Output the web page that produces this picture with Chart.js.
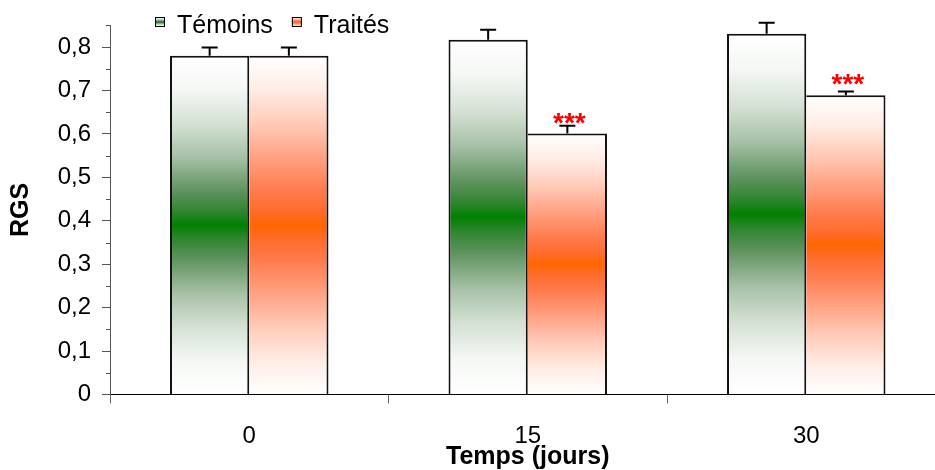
<!DOCTYPE html>
<html>
<head>
<meta charset="utf-8">
<script src="https://cdn.jsdelivr.net/npm/chart.js@4"></script>
<style>
  html, body { margin:0; padding:0; background:#fff; }
  #wrap { width:935px; height:470px; overflow:hidden; position:relative; }
</style>
</head>
<body>
<div id="wrap"><canvas id="c" width="960" height="470"></canvas></div>
<script>
const categories = ['0', '15', '30'];
const seriesNames = ['Témoins', 'Traités'];
const temoins = [0.78, 0.817, 0.831];
const temoinsErr = [0.019, 0.023, 0.025];
const traites = [0.78, 0.601, 0.689];
const traitesErr = [0.019, 0.018, 0.009];
const signif = ['', '***', '***'];
const yMin = 0, yMax = 0.85, yStep = 0.05;
const xTitle = 'Temps (jours)';
const yTitle = 'RGS';

const FONT = "'Liberation Sans', Arial, sans-serif";
Chart.defaults.font.family = FONT;
Chart.defaults.color = '#000';

// gradient profiles (white at bar ends, full colour at bar middle)
const GREEN_STOPS = [[0, '#ffffff'], [0.1, '#f4f7f4'], [0.2, '#d5e1d5'], [0.3, '#a6c0a6'], [0.4, '#5f925f'], [0.46, '#2f852f'], [0.5, '#008000']];
const ORANGE_STOPS = [[0, '#ffffff'], [0.1, '#ffece5'], [0.2, '#ffcbb8'], [0.3, '#ffa182'], [0.4, '#ff7a4c'], [0.46, '#ff6c2a'], [0.5, '#ff6600']];

function isMajor(v) { return Math.round(v * 100) % 10 === 0; }

function makeGradient(c, top, bottom, stops) {
  const g = c.createLinearGradient(0, top, 0, bottom);
  stops.forEach(([p, col]) => { g.addColorStop(p, col); if (p < 0.5) g.addColorStop(1 - p, col); });
  return g;
}

function barGradient(stops) {
  return function (ctx) {
    const chart = ctx.chart;
    const solid = stops[stops.length - 1][1];
    if (ctx.type !== 'data' || !chart.chartArea || !chart.scales.y) return solid;
    const y = chart.scales.y;
    const top = y.getPixelForValue(ctx.parsed.y);
    const bottom = y.getPixelForValue(0);
    if (!isFinite(top) || !isFinite(bottom) || top === bottom) return solid;
    return makeGradient(chart.ctx, top, bottom, stops);
  };
}

const errors = [temoinsErr, traitesErr];

const errorBarsPlugin = {
  id: 'errorBars',
  afterDatasetsDraw(chart) {
    const ctx = chart.ctx, y = chart.scales.y;
    ctx.save();
    ctx.strokeStyle = '#000';
    ctx.lineWidth = 2;
    chart.data.datasets.forEach((ds, di) => {
      const meta = chart.getDatasetMeta(di);
      meta.data.forEach((bar, i) => {
        const v = ds.data[i], e = errors[di][i];
        const yTop = y.getPixelForValue(v + e);
        const yBar = y.getPixelForValue(v);
        ctx.beginPath();
        ctx.moveTo(bar.x, yBar);
        ctx.lineTo(bar.x, yTop);
        ctx.moveTo(bar.x - 8, yTop);
        ctx.lineTo(bar.x + 8, yTop);
        ctx.stroke();
      });
    });
    const meta = chart.getDatasetMeta(1);
    ctx.fillStyle = '#ff0000';
    ctx.font = 'bold 28px ' + FONT;
    ctx.textAlign = 'center';
    ctx.textBaseline = 'alphabetic';
    meta.data.forEach((bar, i) => {
      if (signif[i]) ctx.fillText(signif[i], bar.x + 2, bar.y - 2);
    });
    ctx.restore();
  }
};

const minorTicksPlugin = {
  id: 'minorTicks',
  afterDraw(chart) {
    const ctx = chart.ctx, y = chart.scales.y;
    ctx.save();
    ctx.strokeStyle = '#555';
    ctx.lineWidth = 1;
    for (let k = 0; k * yStep <= yMax + 1e-9; k++) {
      const v = k * yStep;
      if (isMajor(v)) continue;
      const py = Math.round(y.getPixelForValue(v)) + 0.5;
      ctx.beginPath();
      ctx.moveTo(y.right - 4, py);
      ctx.lineTo(y.right, py);
      ctx.stroke();
    }
    ctx.restore();
  }
};

const legendPlugin = {
  id: 'customLegend',
  afterDraw(chart) {
    const ctx = chart.ctx;
    const stopsList = [GREEN_STOPS, ORANGE_STOPS];
    ctx.save();
    ctx.font = '25px ' + FONT;
    ctx.textBaseline = 'alphabetic';
    ctx.textAlign = 'left';
    let x = 155;
    const boxTop = 17, box = 10;
    chart.data.datasets.forEach((ds, i) => {
      ctx.fillStyle = makeGradient(ctx, boxTop, boxTop + box, stopsList[i]);
      ctx.fillRect(x, boxTop, box, box);
      ctx.strokeStyle = '#000';
      ctx.lineWidth = 1;
      ctx.strokeRect(x + 0.5, boxTop + 0.5, box - 1, box - 1);
      ctx.fillStyle = '#000';
      ctx.fillText(ds.label, x + box + 12, 33);
      x += box + 12 + ctx.measureText(ds.label).width + 19;
    });
    ctx.restore();
  }
};

new Chart(document.getElementById('c'), {
  type: 'bar',
  data: {
    labels: categories,
    datasets: [
      {
        label: seriesNames[0], data: temoins,
        backgroundColor: barGradient(GREEN_STOPS),
        borderColor: '#111', borderWidth: {left: 2, top: 2, right: 2, bottom: 0},
        borderSkipped: 'bottom',
        categoryPercentage: 0.569, barPercentage: 1.0
      },
      {
        label: seriesNames[1], data: traites,
        backgroundColor: barGradient(ORANGE_STOPS),
        borderColor: '#111', borderWidth: {left: 0, top: 2, right: 2, bottom: 0},
        borderSkipped: 'bottom',
        categoryPercentage: 0.569, barPercentage: 1.0
      }
    ]
  },
  options: {
    responsive: false,
    animation: false,
    devicePixelRatio: 1,
    layout: { padding: { top: 24.2, right: 14.5, left: 0, bottom: 0 } },
    plugins: { legend: { display: false }, tooltip: { enabled: false } },
    scales: {
      x: {
        grid: { offset: true, drawOnChartArea: false, drawTicks: true, tickLength: 9, tickColor: '#666' },
        border: { display: true, color: '#000', width: 1 },
        ticks: { font: { size: 24 }, color: '#000', padding: 18 },
        title: { display: true, text: xTitle, font: { size: 25, weight: 'bold', lineHeight: 1 }, color: '#000', padding: 0 },
        afterFit(s) { s.height = 75.5; }
      },
      y: {
        min: yMin, max: yMax,
        ticks: {
          stepSize: yStep, autoSkip: false, padding: 11,
          font: { size: 24 }, color: '#000',
          callback(v) {
            if (!isMajor(v)) return '';
            return v === 0 ? '0' : v.toFixed(1).replace('.', ',');
          }
        },
        grid: {
          drawOnChartArea: false, drawTicks: true, tickLength: 8,
          tickColor: (c) => (c.tick && isMajor(c.tick.value)) ? '#555' : 'rgba(0,0,0,0)'
        },
        border: { display: true, color: '#555', width: 1 },
        title: { display: true, text: yTitle, font: { size: 25, weight: 'bold', lineHeight: 1 }, color: '#000', padding: { top: 9, bottom: 0 } },
        afterFit(s) { s.width = 110; }
      }
    }
  },
  plugins: [errorBarsPlugin, minorTicksPlugin, legendPlugin]
});
</script>
</body>
</html>
